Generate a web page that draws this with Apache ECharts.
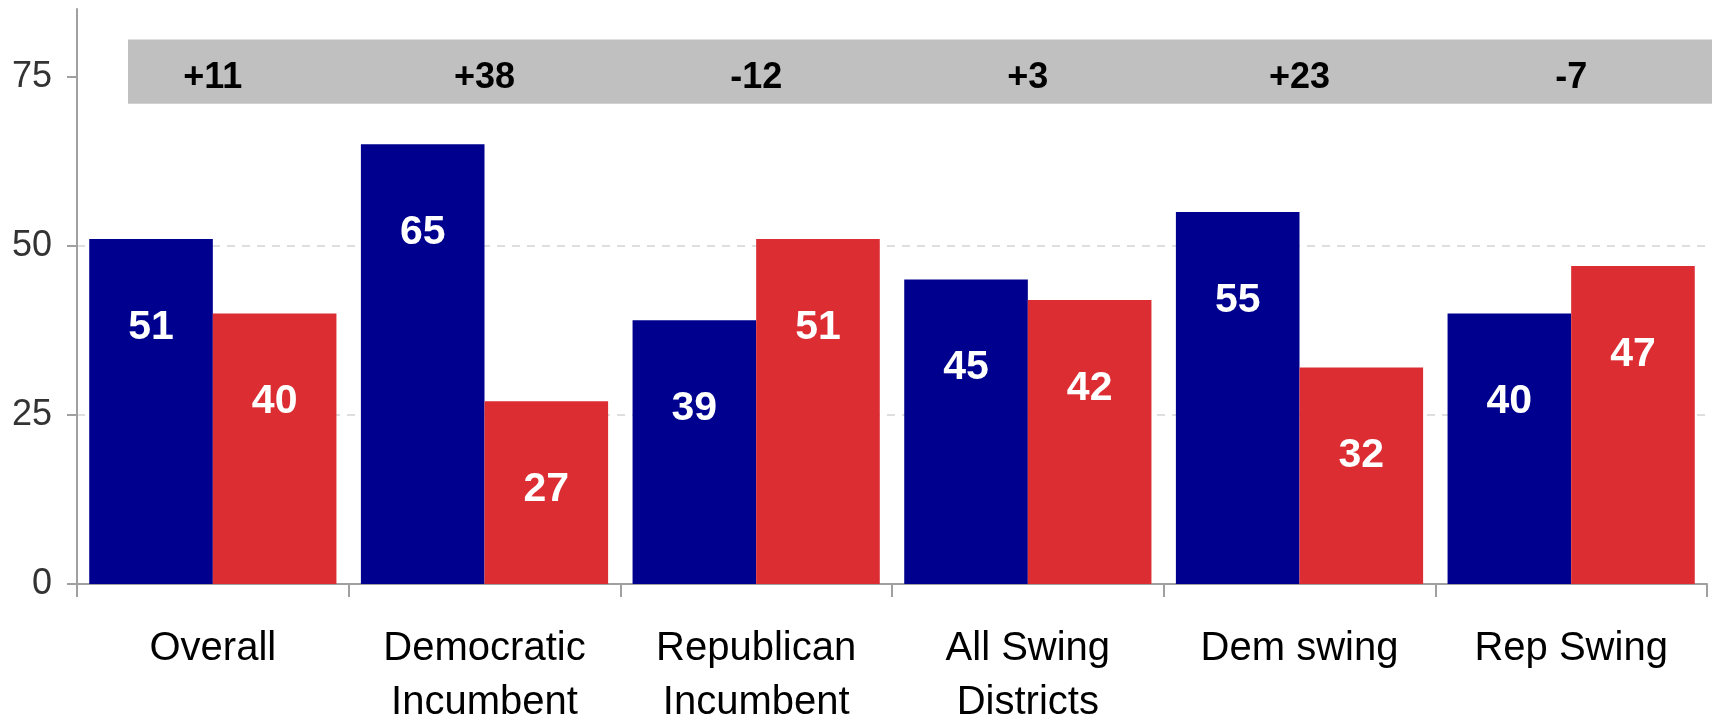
<!DOCTYPE html>
<html>
<head>
<meta charset="utf-8">
<script src="https://cdn.jsdelivr.net/npm/echarts@6/dist/echarts.min.js"></script>
<style>html,body{margin:0;padding:0;background:#fff;}#chart{width:1719px;height:718px;}</style>
</head>
<body>
<div id="chart"></div>
<script>
const categories = ['Overall', 'Democratic\nIncumbent', 'Republican\nIncumbent', 'All Swing\nDistricts', 'Dem swing', 'Rep Swing'];
const demValues = [51, 65, 39, 45, 55, 40];
const repValues = [40, 27, 51, 42, 32, 47];
const margins = [11, 38, -12, 3, 23, -7];
const yTicks = [0, 25, 50, 75];
const bandRange = [71, 80.5];
const marginLabelLevel = 75;

const FONT = '"Liberation Sans", Arial, sans-serif';
const chart = echarts.init(document.getElementById('chart'), null, {renderer: 'canvas'});

const barLabel = {
  show: true, position: 'insideTop', distance: 68,
  color: '#fff', fontSize: 41, fontWeight: 'bold', fontFamily: FONT
};

chart.setOption({
  animation: false,
  backgroundColor: '#fff',
  grid: {left: 77, right: 12, top: 9, bottom: 134, containLabel: false, outerBoundsMode: 'none'},
  xAxis: {
    type: 'category', data: categories,
    axisLine: {lineStyle: {color: '#a0a0a0', width: 2}},
    axisTick: {show: true, length: 13, interval: 0, lineStyle: {color: '#a0a0a0', width: 2}},
    axisLabel: {interval: 0, margin: 38, color: '#000', fontSize: 40, lineHeight: 54, fontFamily: FONT}
  },
  yAxis: {
    type: 'value', min: 0, max: 85, interval: 25,
    axisLine: {show: true, lineStyle: {color: '#a0a0a0', width: 2}},
    axisTick: {show: true, length: 10, customValues: yTicks, lineStyle: {color: '#a0a0a0', width: 2}},
    axisLabel: {margin: 25, color: '#333', fontSize: 36, fontFamily: FONT, customValues: yTicks},
    splitLine: {show: true, showMaxLine: false, lineStyle: {color: '#d4d4d4', width: 1.5, type: [8, 7]}}
  },
  series: [
    {
      type: 'bar', name: 'Dem', data: demValues, barGap: '0%', barCategoryGap: '9%',
      itemStyle: {color: '#00008f'}, label: barLabel
    },
    {
      type: 'bar', name: 'Rep', data: repValues,
      itemStyle: {color: '#dc2d33'}, label: barLabel
    },
    {
      type: 'custom', name: 'band', z: 3, silent: true,
      data: [[0, bandRange[0], bandRange[1]]],
      renderItem: function (params, api) {
        const cs = params.coordSys;
        const yTop = api.coord([0, api.value(2)])[1];
        const yBot = api.coord([0, api.value(1)])[1];
        return {
          type: 'rect',
          shape: {x: cs.x + 51, y: yTop, width: cs.width - 51 + 5, height: yBot - yTop},
          style: {fill: '#c0c0c0'}
        };
      }
    },
    {
      type: 'custom', name: 'margins', z: 4, silent: true,
      data: margins.map((m, i) => [i, marginLabelLevel, m]),
      renderItem: function (params, api) {
        const p = api.coord([api.value(0), api.value(1)]);
        const m = api.value(2);
        return {
          type: 'text', x: p[0], y: p[1] + 1,
          style: {
            text: (m > 0 ? '+' : '') + m, fill: '#000', fontSize: 36, fontWeight: 'bold', fontFamily: FONT,
            align: 'center', verticalAlign: 'middle'
          }
        };
      }
    }
  ]
});
</script>
</body>
</html>
